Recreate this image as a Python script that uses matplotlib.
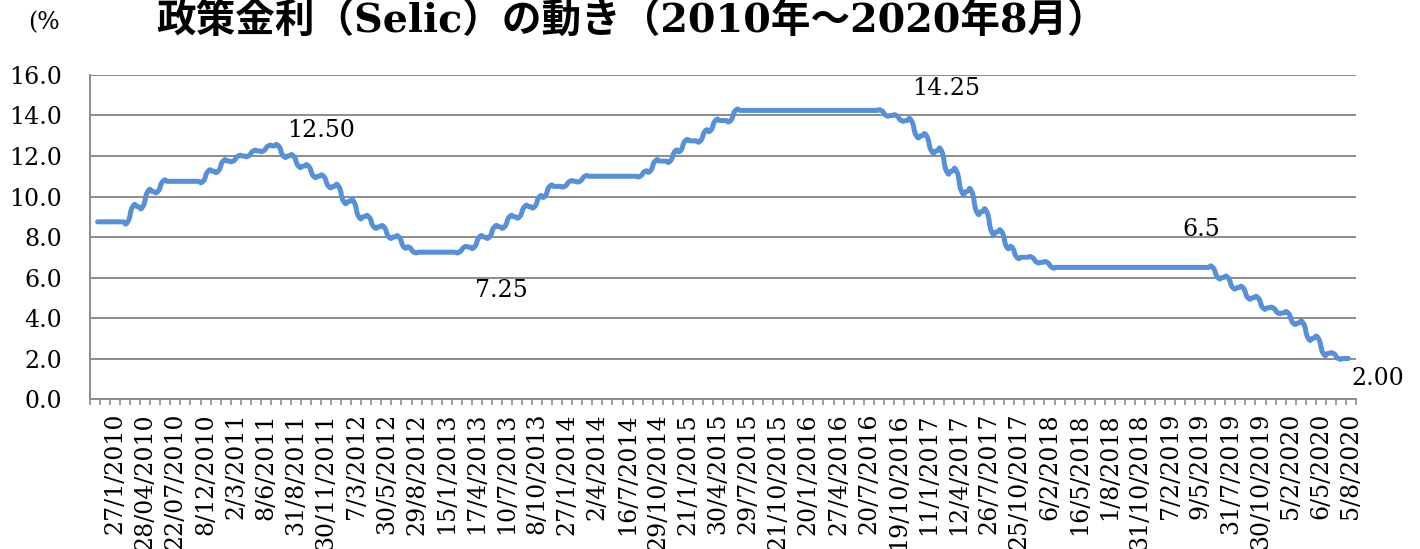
import matplotlib
matplotlib.use("Agg")
import matplotlib.pyplot as plt
from matplotlib.path import Path
from matplotlib.patches import PathPatch
import numpy as np

TITLE = "政策金利（Selic）の動き（2010年～2020年8月）"
UNIT = "(%"

# Selic target (%): each level and the number of
# data rows it keeps (rows are half a tick wide on the category axis)
rate_levels = [
    8.75, 9.50, 10.25, 10.75, 11.25, 11.75, 12.00, 12.25, 12.50, 12.00,
    11.50, 11.00, 10.50, 9.75, 9.00, 8.50, 8.00, 7.50, 7.25, 7.50,
    8.00, 8.50, 9.00, 9.50, 10.00, 10.50, 10.75, 11.00, 11.25, 11.75,
    12.25, 12.75, 13.25, 13.75, 14.25, 14.00, 13.75, 13.00, 12.25, 11.25,
    10.25, 9.25, 8.25, 7.50, 7.00, 6.75, 6.50, 6.00, 5.50, 5.00,
    4.50, 4.25, 3.75, 3.00, 2.25, 2.00,
]
level_rows = [
    7, 3, 3, 9, 3, 3, 3, 3, 3, 3,
    3, 3, 3, 3, 3, 3, 3, 2, 10, 3,
    3, 3, 3, 3, 2, 4, 3, 12, 2, 4,
    2, 4, 2, 4, 30, 3, 3, 3, 3, 3,
    3, 3, 3, 2, 4, 3, 33, 3, 3, 3,
    3, 3, 3, 3, 3, 3,
]

date_labels = [
    "27/1/2010", "28/04/2010", "22/07/2010", "8/12/2010", "2/3/2011",
    "8/6/2011", "31/8/2011", "30/11/2011", "7/3/2012", "30/5/2012",
    "29/8/2012", "15/1/2013", "17/4/2013", "10/7/2013", "8/10/2013",
    "27/1/2014", "2/4/2014", "16/7/2014", "29/10/2014", "21/1/2015",
    "30/4/2015", "29/7/2015", "21/10/2015", "20/1/2016", "27/4/2016",
    "20/7/2016", "19/10/2016", "11/1/2017", "12/4/2017", "26/7/2017",
    "25/10/2017", "6/2/2018", "16/5/2018", "1/8/2018", "31/10/2018",
    "7/2/2019", "9/5/2019", "31/7/2019", "30/10/2019", "5/2/2020",
    "6/5/2020", "5/8/2020",
]

# value labels and the row they refer to
notes = ["12.50", "14.25", "7.25", "6.5", "2.00"]
note_row = [35, 156, 67, 222, 249]
note_off = [(48, 15), (65, 22), (67, -38), (-12, 38), (29, -20)]  # pixels

LINE_C = "#5590D8"
GRID_C = "#8C8C8C"
SERIF = "DejaVu Serif"

selic = np.repeat(rate_levels, level_rows)
xpos = np.arange(1, len(selic) + 1)          # first row sits one slot in
N_SLOTS = 252                                 # 126 tick intervals x 2


def smooth_path(x, y, a=1 / 3):
    """Excel-like smoothed line: cubic Bezier through every point."""
    pts = np.column_stack([np.asarray(x, float), np.asarray(y, float)])
    ext = np.vstack([pts[0], pts, pts[-1]])
    verts, codes = [pts[0]], [Path.MOVETO]
    for i in range(len(pts) - 1):
        p0, p1, p2, p3 = ext[i], ext[i + 1], ext[i + 2], ext[i + 3]
        verts += [p1 + a * (p2 - p0), p2 - a * (p3 - p1), p2]
        codes += [Path.CURVE4] * 3
    return Path(verts, codes)


fig = plt.figure(figsize=(14.2, 5.49), dpi=100)
ax = fig.add_axes([0.0634, 0.2732, 0.8915, 0.5902])

ax.set_xlim(-0.5, N_SLOTS - 0.5)
ax.set_ylim(0, 16)

ax.add_patch(PathPatch(smooth_path(xpos, selic), fill=False,
                       edgecolor=LINE_C, lw=3.6, capstyle="round",
                       joinstyle="round", zorder=3))

# grid
yt = np.arange(0, 16.1, 2)
ax.set_yticks(yt)
ax.yaxis.grid(True, color=GRID_C, lw=1.4)
ax.set_axisbelow(True)
ax.set_yticklabels([f"{v:.1f}" for v in yt], fontsize=17, family=SERIF)
ax.tick_params(axis="y", length=0, pad=20)

# category axis: a tick every 2 rows, a date label every 3rd tick
ax.set_xticks(np.arange(-0.5, N_SLOTS, 2), minor=True)
ax.set_xticks(np.arange(4.5, N_SLOTS, 6))
ax.set_xticklabels(date_labels, rotation=90, fontsize=17, family=SERIF)
ax.tick_params(axis="x", which="major", length=0, pad=10)
ax.tick_params(axis="x", which="minor", length=4, width=1.2, color=GRID_C)

for s in ("top", "right"):
    ax.spines[s].set_visible(False)
for s in ("left", "bottom"):
    ax.spines[s].set_color(GRID_C)
    ax.spines[s].set_linewidth(1.4)

for txt, i, off in zip(notes, note_row, note_off):
    ax.annotate(txt, (xpos[i], selic[i]), xytext=off,
                textcoords="offset pixels", ha="center", va="center",
                fontsize=17, family=SERIF, annotation_clip=False)

fig.text(0.445, 0.963, TITLE, ha="center", va="center", fontsize=28.5,
         fontweight="bold", family=[SERIF, "Noto Sans CJK JP"])
fig.text(0.0197, 0.958, UNIT, ha="left", va="center", fontsize=17,
         family=SERIF)

fig.savefig("out.png", dpi=100)
